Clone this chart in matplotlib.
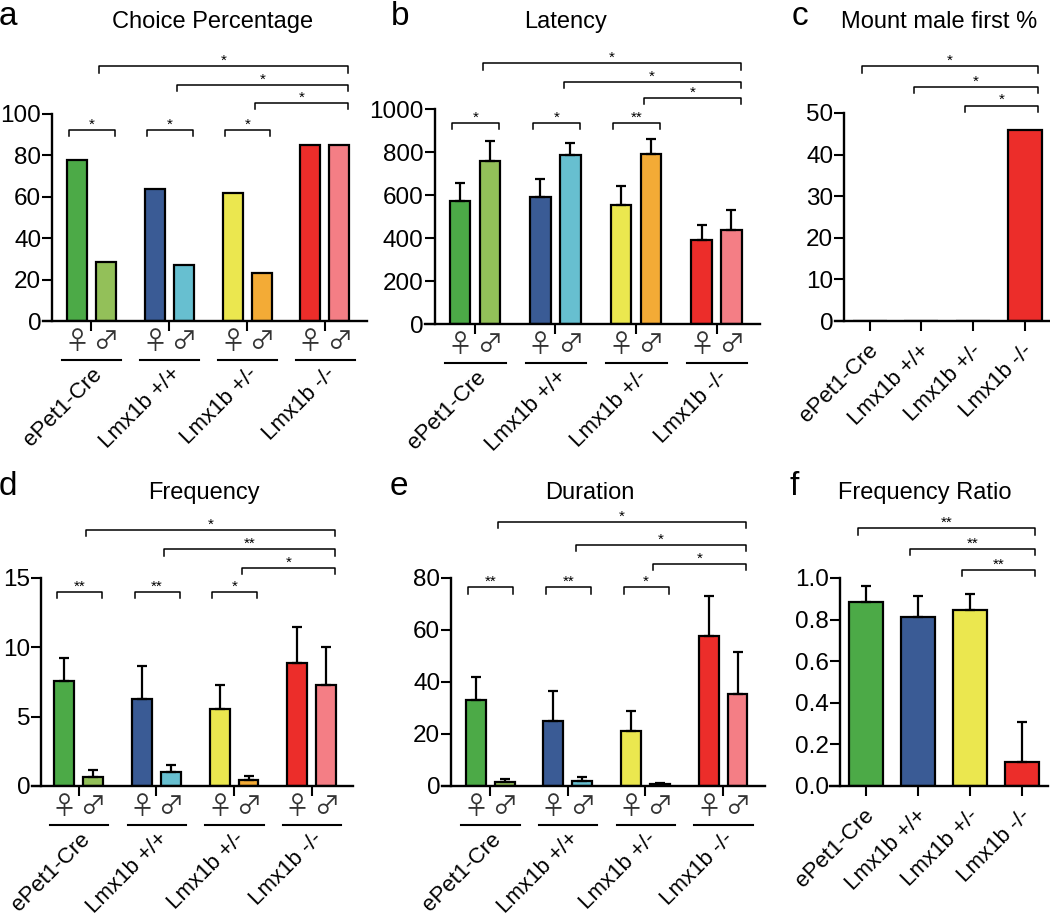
import numpy as np
import matplotlib.pyplot as plt
from matplotlib.transforms import offset_copy

plt.rcParams['font.family'] = ['Liberation Sans', 'DejaVu Sans']

# data
groups = ['ePet1-Cre', 'Lmx1b +/+', 'Lmx1b +/-', 'Lmx1b -/-']
female_colors = ['#4caa47', '#3a5b95', '#ebe74f', '#ec2d2a']
male_colors = ['#93c059', '#67bfd0', '#f3ab36', '#f47e85']
single_colors = female_colors

choice_f = [78, 64, 62, 85]
choice_m = [28.5, 27, 23, 85]

latency_f = [570, 590, 555, 390]
latency_f_err = [88, 85, 88, 72]
latency_m = [758, 785, 790, 438]
latency_m_err = [92, 58, 72, 90]

freq_f = [7.55, 6.25, 5.55, 8.9]
freq_f_err = [1.7, 2.4, 1.7, 2.6]
freq_m = [0.65, 1.0, 0.45, 7.3]
freq_m_err = [0.48, 0.55, 0.25, 2.75]

dur_f = [33.1, 25.0, 21.0, 57.7]
dur_f_err = [9.0, 11.7, 7.8, 15.2]
dur_m = [1.4, 1.9, 0.8, 35.2]
dur_m_err = [1.2, 1.4, 0.5, 16.2]

mount = [0, 0, 0, 46]

ratio = [0.883, 0.812, 0.847, 0.114]
ratio_err = [0.08, 0.10, 0.076, 0.196]

choice_pair_sig = ['*', '*', '*', '']
latency_pair_sig = ['*', '*', '**', '']
freq_pair_sig = ['**', '**', '*', '']
dur_pair_sig = ['**', '**', '*', '']
choice_top_sig = ['*', '*', '*']
latency_top_sig = ['*', '*', '*']
freq_top_sig = ['*', '**', '*']
dur_top_sig = ['*', '*', '*']
mount_top_sig = ['*', '*', '*']
ratio_top_sig = ['**', '**', '**']

W, H = 1050, 918
fig = plt.figure(figsize=(W / 100, H / 100), dpi=100)


def make_axes(left, right, top, bottom):
    return fig.add_axes([left / W, 1 - bottom / H, (right - left) / W, (bottom - top) / H])


def style(ax, ymax, yticks, ylabels, xlim, spine_x):
    ax.set_xlim(xlim)
    ax.set_ylim(0, ymax)
    for s in ['top', 'right']:
        ax.spines[s].set_visible(False)
    ax.spines['left'].set_position(('data', spine_x))
    ax.spines['left'].set_linewidth(1.7)
    ax.spines['bottom'].set_linewidth(1.7)
    ax.set_yticks(yticks)
    ax.set_yticklabels(ylabels)
    ax.set_xticks(range(4))
    ax.set_xticklabels([])
    ax.tick_params(direction='out', length=7, width=1.5, labelsize=17.5, pad=1)


def bracket(ax, x1, x2, y, text, leg=0.03):
    tr = ax.get_xaxis_transform()
    ax.plot([x1, x1, x2, x2], [y - leg, y, y, y - leg], color='black', lw=1.1,
            transform=tr, clip_on=False)
    ax.text((x1 + x2) / 2, y + 0.006, text, ha='center', va='baseline',
            fontsize=11, transform=tr)


def group_labels(ax, dx, dy):
    tr = offset_copy(ax.get_xaxis_transform(), fig=fig, y=dy, units='points')
    for i, g in enumerate(groups):
        ax.text(i + dx, 0, g, transform=tr, rotation=45, ha='right', va='center',
                rotation_mode='anchor', fontsize=16, clip_on=False)


def paired(ax, fem, male, fem_err, male_err, ymax, yticks, ylabels, xlim, spine_x,
           pair_sig, top_sig, pair_y, top_y):
    x = np.arange(4)
    w, off = 0.256, 0.186
    ekw = dict(elinewidth=1.6, capsize=3.6, capthick=1.6, ecolor='black')
    fe = None if fem_err is None else [[0] * 4, fem_err]
    me = None if male_err is None else [[0] * 4, male_err]
    ax.bar(x - off, fem, w, color=female_colors, edgecolor='black', linewidth=1.6,
           yerr=fe, error_kw=ekw)
    ax.bar(x + off, male, w, color=male_colors, edgecolor='black', linewidth=1.6,
           yerr=me, error_kw=ekw)
    style(ax, ymax, yticks, ylabels, xlim, spine_x)

    tr_sym = offset_copy(ax.get_xaxis_transform(), fig=fig, y=-15, units='points')
    tr_line = offset_copy(ax.get_xaxis_transform(), fig=fig, y=-28, units='points')
    for i in range(4):
        ax.text(i - off, 0, '\u2640', transform=tr_sym, ha='center', va='center',
                fontsize=18, color='#333333', family=['Noto Sans CJK JP', 'DejaVu Sans'])
        ax.text(i + off, 0, '\u2642', transform=tr_sym, ha='center', va='center',
                fontsize=18, color='#333333', family=['Noto Sans CJK JP', 'DejaVu Sans'])
        ax.plot([i - 0.37, i + 0.38], [0, 0], color='black', lw=1.5,
                transform=tr_line, clip_on=False)
    group_labels(ax, 0.1, -36)

    for i, s in enumerate(pair_sig):
        if s:
            bracket(ax, i - 0.28, i + 0.30, pair_y, s)
    for i, s in enumerate(top_sig):
        bracket(ax, i + 0.1, 3.3, top_y[i], s)


def single(ax, vals, errs, ymax, yticks, ylabels, xlim, spine_x, top_sig, top_y):
    x = np.arange(4)
    ekw = dict(elinewidth=1.6, capsize=3.6, capthick=1.6, ecolor='black')
    e = None if errs is None else [[0] * 4, errs]
    ax.bar(x, vals, 0.66, color=single_colors, edgecolor='black', linewidth=1.6,
           yerr=e, error_kw=ekw)
    style(ax, ymax, yticks, ylabels, xlim, spine_x)
    group_labels(ax, 0.1, -19)
    for i, s in enumerate(top_sig):
        bracket(ax, i - 0.15, 3.25, top_y[i], s)


ax_a = make_axes(43, 367, 114, 321)
paired(ax_a, choice_f, choice_m, None, None, 100, range(0, 101, 20),
       [str(v) for v in range(0, 101, 20)], (-0.62, 3.54), -0.5,
       choice_pair_sig, choice_top_sig, 0.925, [1.23, 1.142, 1.053])

ax_b = make_axes(425, 760, 109, 324)
paired(ax_b, latency_f, latency_m, latency_f_err, latency_m_err, 1000,
       range(0, 1001, 200), [str(v) for v in range(0, 1001, 200)], (-0.62, 3.54), -0.5,
       latency_pair_sig, latency_top_sig, 0.936, [1.212, 1.126, 1.053])

ax_c = make_axes(835, 1050, 113, 321)
single(ax_c, mount, None, 50, range(0, 51, 10), [str(v) for v in range(0, 51, 10)],
       (-0.67, 3.49), -0.49, mount_top_sig, [1.224, 1.124, 1.036])

ax_d = make_axes(32, 353, 578, 786)
paired(ax_d, freq_f, freq_m, freq_f_err, freq_m_err, 15, [0, 5, 10, 15],
       ['0', '5', '10', '15'], (-0.6, 3.53), -0.48,
       freq_pair_sig, freq_top_sig, 0.933, [1.233, 1.138, 1.05])

ax_e = make_axes(442, 765, 578, 786)
paired(ax_e, dur_f, dur_m, dur_f_err, dur_m_err, 80, range(0, 81, 20),
       [str(v) for v in range(0, 81, 20)], (-0.62, 3.54), -0.5,
       dur_pair_sig, dur_top_sig, 0.955, [1.269, 1.159, 1.069])

ax_f = make_axes(830, 1048, 578, 786)
single(ax_f, ratio, ratio_err, 1.0, np.arange(0, 1.01, 0.2),
       ['%.1f' % v for v in np.arange(0, 1.01, 0.2)], (-0.69, 3.5), -0.5,
       ratio_top_sig, [1.238, 1.14, 1.04])

titles = [('Choice Percentage', 213, 28), ('Latency', 566, 28), ('Mount male first %', 939, 28),
          ('Frequency', 204, 499), ('Duration', 590, 499), ('Frequency Ratio', 925, 499)]
for t, x, y in titles:
    fig.text(x / W, 1 - y / H, t, ha='center', va='baseline', fontsize=17)

letters = [('a', -1, 25), ('b', 391, 25), ('c', 792, 25),
           ('d', -1, 495), ('e', 390, 495), ('f', 790, 495)]
for t, x, y in letters:
    fig.text(x / W, 1 - y / H, t, ha='left', va='baseline', fontsize=24)

fig.savefig('out.png', dpi=100)
